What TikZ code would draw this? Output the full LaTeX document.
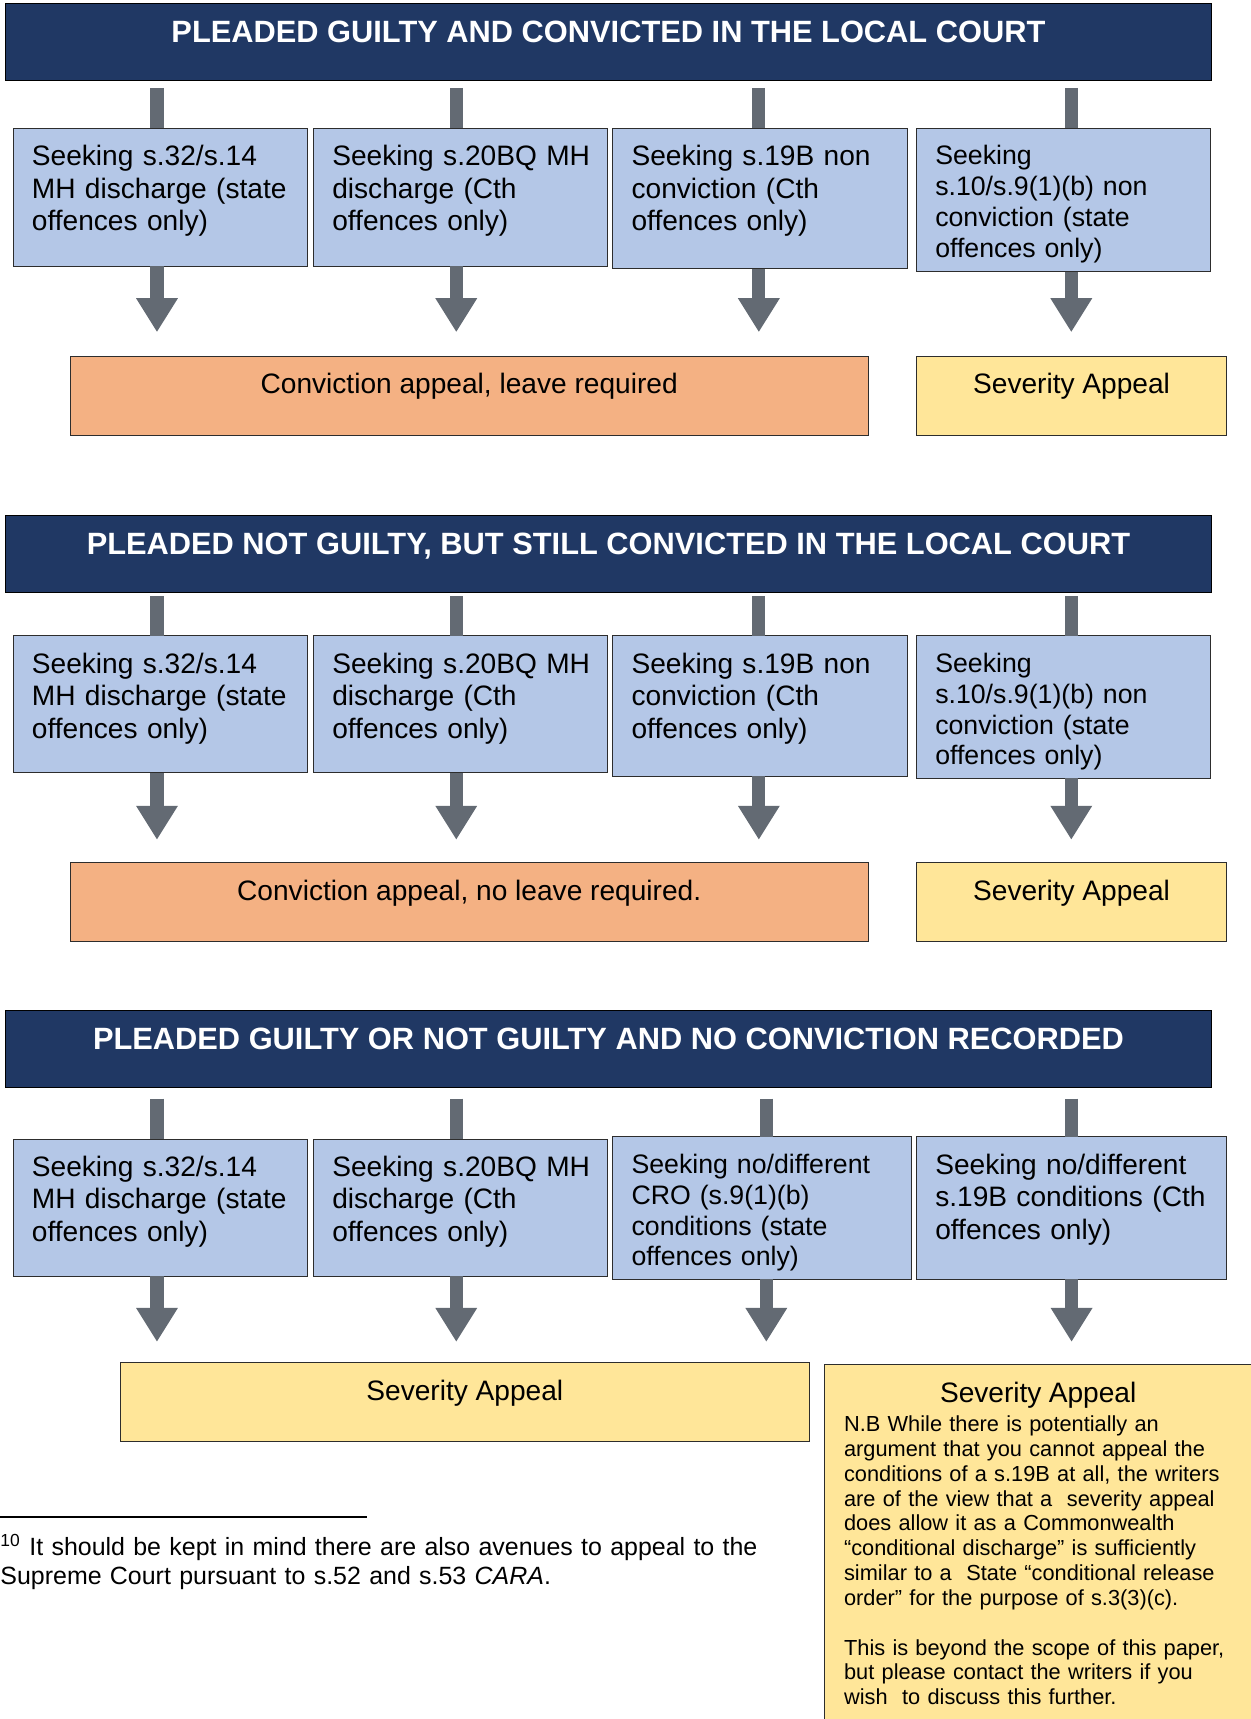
\documentclass[tikz,border=0pt]{standalone}
\usepackage{fontspec}
\setmainfont{Liberation Sans}
\usetikzlibrary{arrows.meta,calc}

\definecolor{hdrblue}{RGB}{32,56,100}
\definecolor{seekblue}{RGB}{180,199,231}
\definecolor{leaveorange}{RGB}{244,177,131}
\definecolor{sevyellow}{RGB}{255,230,153}
\definecolor{flowgrey}{RGB}{99,106,115}
\definecolor{edgegrey}{RGB}{45,45,45}

\newcommand{\hdrfont}{\fontsize{13.15pt}{15pt}\selectfont\bfseries}
\newcommand{\boxfont}{\fontsize{12pt}{13.8pt}\selectfont}
\newcommand{\smallboxfont}{\fontsize{11.4pt}{13.2pt}\selectfont}
\newcommand{\notefont}{\fontsize{9.3pt}{10.6pt}\selectfont}
\newcommand{\fnfont}{\fontsize{10.65pt}{12.2pt}\selectfont}

\begin{document}
\begin{tikzpicture}[x=0.468pt,y=-0.468pt,
  hdr/.style={draw=black,fill=hdrblue,text=white,font=\hdrfont,minimum width=514.8pt,
    inner sep=0pt,outer sep=0pt,text height=16.6pt,text depth=16.2pt,anchor=north west},
  seek/.style={draw=edgegrey,fill=seekblue,font=\boxfont,text width=#1,align=left,
    inner xsep=8pt,inner ysep=0pt,outer sep=0pt,text height=16pt,anchor=north west},
  seek/.default=109.6pt,
  result/.style={draw=edgegrey,font=\boxfont,inner sep=0pt,outer sep=0pt,
    text height=16pt,text depth=17.7pt,anchor=north west},
  stem/.style={draw=flowgrey,line width=5.6pt},
  flow/.style={stem,-{Triangle[width=16.8pt,length=14.5pt]}}]
   \useasboundingbox (0,0) rectangle (1141,1568);
   \clip (0,0) rectangle (1141,1568);

   \node[hdr] (h1) at (5,3) {PLEADED GUILTY AND CONVICTED IN THE LOCAL COURT};
   \node[seek,text depth=43pt] (s11) at (12,117) {Seeking s.32/s.14\\MH discharge (state\\offences only)};
   \node[seek,text depth=43pt] (s12) at (286,117) {Seeking~s.20BQ~MH\\discharge (Cth\\offences only)};
   \node[seek,text depth=43.9pt] (s13) at (559,117) {Seeking s.19B non\\conviction (Cth\\offences only)};
   \node[seek,font=\smallboxfont,text height=15.5pt,text depth=45.8pt] (s14) at (836,117) {Seeking\\s.10/s.9(1)(b) non\\conviction (state\\offences only)};
   \node[result,fill=leaveorange,minimum width=340.7pt] (c1) at (64,325) {Conviction appeal, leave required};
   \node[result,fill=sevyellow,minimum width=132.4pt] (sv1) at (836,325) {Severity Appeal};

   \node[hdr] (h2) at (5,470) {PLEADED NOT GUILTY, BUT STILL CONVICTED IN THE LOCAL COURT};
   \node[seek,text depth=42.5pt] (s21) at (12,580) {Seeking s.32/s.14\\MH discharge (state\\offences only)};
   \node[seek,text depth=42.5pt] (s22) at (286,580) {Seeking~s.20BQ~MH\\discharge (Cth\\offences only)};
   \node[seek,text depth=43.9pt] (s23) at (559,580) {Seeking s.19B non\\conviction (Cth\\offences only)};
   \node[seek,font=\smallboxfont,text height=15.5pt,text depth=45.3pt] (s24) at (836,580) {Seeking\\s.10/s.9(1)(b) non\\conviction (state\\offences only)};
   \node[result,fill=leaveorange,minimum width=340.7pt] (c2) at (64,787) {Conviction appeal, no leave required.};
   \node[result,fill=sevyellow,minimum width=132.4pt] (sv2) at (836,787) {Severity Appeal};

   \node[hdr] (h3) at (5,922) {PLEADED GUILTY OR NOT GUILTY AND NO CONVICTION RECORDED};
   \node[seek,text depth=42.5pt] (s31) at (12,1039) {Seeking s.32/s.14\\MH discharge (state\\offences only)};
   \node[seek,text depth=42.5pt] (s32) at (286,1039) {Seeking~s.20BQ~MH\\discharge (Cth\\offences only)};
   \node[seek=111.3pt,font=\smallboxfont,text height=15.5pt,text depth=45.3pt] (s33) at (559,1037) {Seeking no/different\\CRO (s.9(1)(b)\\conditions (state\\offences only)};
   \node[seek=116.4pt,text depth=44.8pt] (s34) at (836,1037) {Seeking no/different\\s.19B conditions (Cth\\offences only)};
   \node[result,fill=sevyellow,minimum width=293.9pt] (sv3) at (110,1243) {Severity Appeal};
   \node[draw=edgegrey,fill=sevyellow,font=\notefont,text width=165.7pt,align=left,inner xsep=8.4pt,inner ysep=0pt,
     outer sep=0pt,text height=15.9pt,text depth=200pt,anchor=north west] (note) at (752,1245)
     {\makebox[\linewidth]{\boxfont Severity Appeal}\\[2pt]
      N.B While there is potentially an\\
      argument that you cannot appeal the\\
      conditions of a s.19B at all, the writers\\
      are of the view that a~ severity appeal\\
      does allow it as a Commonwealth\\
      “conditional discharge” is sufficiently\\
      similar to a~ State “conditional release\\
      order” for the purpose of s.3(3)(c).\\[10.6pt]
      This is beyond the scope of this paper,\\
      but please contact the writers if you\\
      wish~ to discuss this further.};

   \draw[stem] ($(h1.south -| s11.north)+(-3,7)$) -- ($(s11.north)+(-3,0)$);
   \draw[stem] ($(h1.south -| s12.north)+(-4,7)$) -- ($(s12.north)+(-4,0)$);
   \draw[stem] ($(h1.south -| s13.north)+(-1,7)$) -- ($(s13.north)+(-1,0)$);
   \draw[stem] ($(h1.south -| s14.north)+(7,7)$) -- ($(s14.north)+(7,0)$);
   \draw[flow] ($(s11.south)+(-3,0)$) -- ($(c1.north -| s11.south)+(-3,-22)$);
   \draw[flow] ($(s12.south)+(-4,0)$) -- ($(c1.north -| s12.south)+(-4,-22)$);
   \draw[flow] ($(s13.south)+(-1,0)$) -- ($(c1.north -| s13.south)+(-1,-22)$);
   \draw[flow] ($(s14.south)+(7,0)$) -- ($(sv1.north -| s14.south)+(7,-22)$);

   \draw[stem] ($(h2.south -| s21.north)+(-3,4)$) -- ($(s21.north)+(-3,0)$);
   \draw[stem] ($(h2.south -| s22.north)+(-4,4)$) -- ($(s22.north)+(-4,0)$);
   \draw[stem] ($(h2.south -| s23.north)+(-1,4)$) -- ($(s23.north)+(-1,0)$);
   \draw[stem] ($(h2.south -| s24.north)+(7,4)$) -- ($(s24.north)+(7,0)$);
   \draw[flow] ($(s21.south)+(-3,0)$) -- ($(c2.north -| s21.south)+(-3,-21)$);
   \draw[flow] ($(s22.south)+(-4,0)$) -- ($(c2.north -| s22.south)+(-4,-21)$);
   \draw[flow] ($(s23.south)+(-1,0)$) -- ($(c2.north -| s23.south)+(-1,-21)$);
   \draw[flow] ($(s24.south)+(7,0)$) -- ($(sv2.north -| s24.south)+(7,-21)$);

   \draw[stem] ($(h3.south -| s31.north)+(-3,10)$) -- ($(s31.north)+(-3,0)$);
   \draw[stem] ($(h3.south -| s32.north)+(-4,10)$) -- ($(s32.north)+(-4,0)$);
   \draw[stem] ($(h3.south -| s33.north)+(4,10)$) -- ($(s33.north)+(4,0)$);
   \draw[stem] ($(h3.south -| s34.north)+(0,10)$) -- (s34.north);
   \draw[flow] ($(s31.south)+(-3,0)$) -- ($(sv3.north -| s31.south)+(-3,-19)$);
   \draw[flow] ($(s32.south)+(-4,0)$) -- ($(sv3.north -| s32.south)+(-4,-19)$);
   \draw[flow] ($(s33.south)+(4,0)$) -- ($(sv3.north -| s33.south)+(4,-19)$);
   \draw[flow] (s34.south) -- ($(note.north -| s34.south)+(0,-21)$);

   \draw[line width=0.7pt] (0,1384) -- (335,1384);
   \node[font=\fnfont,text width=340pt,align=left,inner sep=0pt,anchor=base west] (fn) at (0,1419)
     {\textsuperscript{10} It should be kept in mind there are also avenues to appeal to the\\
      Supreme Court pursuant to s.52 and s.53 \textit{CARA}.};
\end{tikzpicture}
\end{document}
